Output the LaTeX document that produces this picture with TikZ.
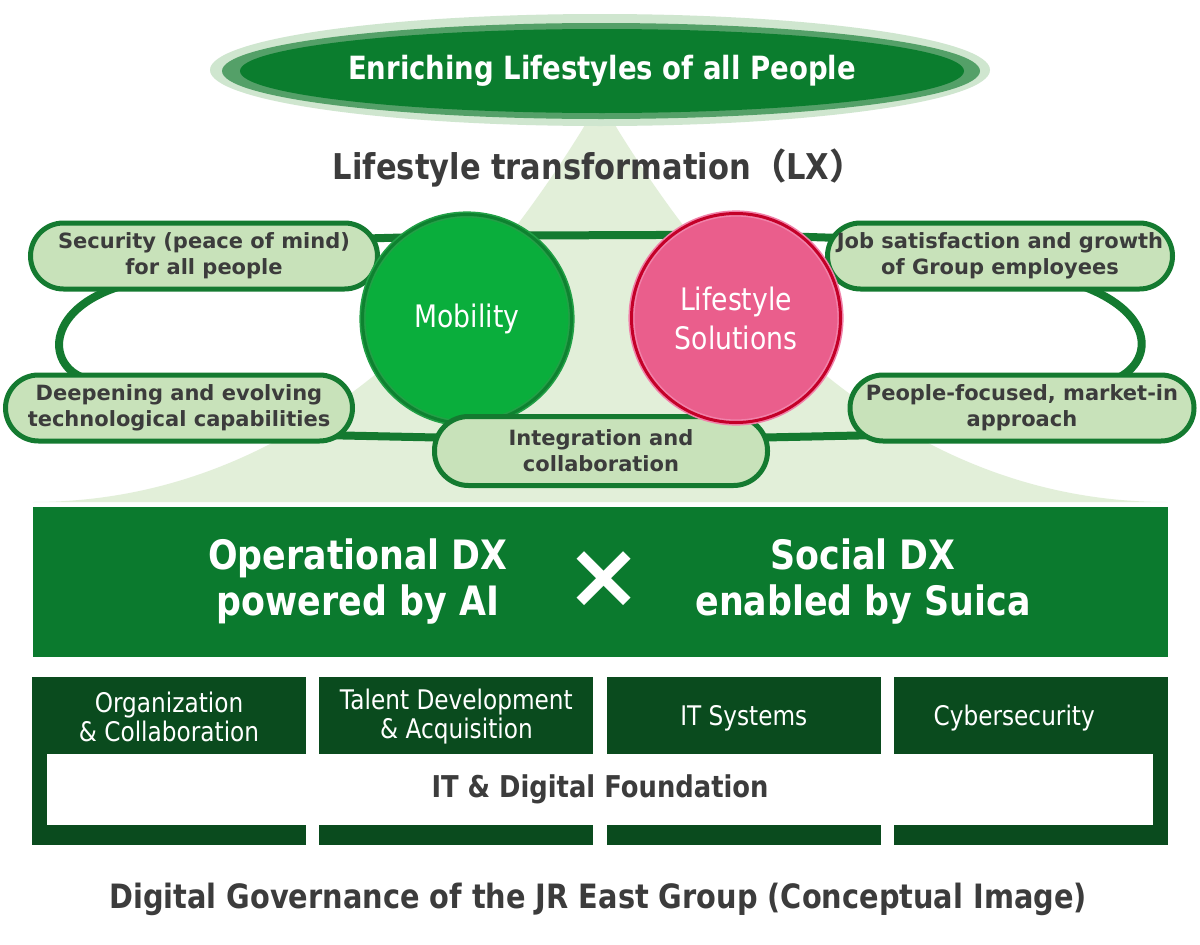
\documentclass[tikz,border=0pt]{standalone}
\usepackage{fontspec}
\setmainfont{DejaVu Sans}
\newfontfamily\meiryo{DejaVu Sans}[FakeStretch=0.86]
\newfontfamily\cjkfont{Noto Sans CJK JP}
\usetikzlibrary{positioning,shapes.geometric,backgrounds}
\definecolor{goalgreen}{RGB}{11,125,46}
\definecolor{goalring}{RGB}{84,160,104}
\definecolor{goalhalo}{RGB}{207,230,207}
\definecolor{conefill}{RGB}{226,239,217}
\definecolor{loopgreen}{RGB}{20,122,48}
\definecolor{pillfill}{RGB}{200,226,186}
\definecolor{txtgray}{RGB}{60,60,60}
\definecolor{mobfill}{RGB}{10,174,60}
\definecolor{mobring}{RGB}{34,160,70}
\definecolor{mobline}{RGB}{14,130,48}
\definecolor{lsfill}{RGB}{234,94,140}
\definecolor{lsring}{RGB}{240,130,170}
\definecolor{lsline}{RGB}{196,0,40}
\definecolor{dxgreen}{RGB}{11,122,46}
\definecolor{coldark}{RGB}{10,75,30}

\begin{document}
\begin{tikzpicture}[x=1pt,y=-1pt,
  pill/.style={draw=loopgreen,line width=5pt,fill=pillfill,rounded corners=33pt,minimum width=347pt,minimum height=66pt,inner sep=0pt,align=center,text=txtgray,font=\bfseries\fontsize{21}{26}\selectfont},
  hub/.style={circle,minimum size=209pt,inner sep=0pt,align=center,text=white,line width=1.6pt,double distance=3pt,font=\meiryo\fontsize{31}{39}\selectfont},
  dxtext/.style={text=white,align=center,font=\meiryo\bfseries\fontsize{40.5}{46}\selectfont},
  pillar/.style={fill=coldark,minimum width=274pt,minimum height=168pt,inner sep=0pt},
  pillarlabel/.style={text=white,align=center,font=\meiryo\fontsize{27}{29}\selectfont},
  loopline/.style={draw=loopgreen,line width=8pt},
]
\useasboundingbox (0,0) rectangle (1200,945);

% goal on top
\fill[goalhalo] (600,70) ellipse [x radius=390,y radius=56];
\fill[goalring] (601,71) ellipse [x radius=379,y radius=48];
\node[ellipse,fill=goalgreen,minimum width=724pt,minimum height=84pt,inner sep=0pt,text=white,font=\meiryo\bfseries\fontsize{32}{38}\selectfont] (goal) at (602,71) {Enriching Lifestyles of all People};
\node[text=txtgray,font=\meiryo\bfseries\fontsize{35.5}{40}\selectfont] (lx) at (599,168) {Lifestyle transformation{\cjkfont （}LX{\cjkfont ）}};

% values and the two businesses
\node[pill] (sec) at (204,256) {Security (peace of mind)\\for all people};
\node[pill] (deep) at (179,408) {Deepening and evolving\\technological capabilities};
\node[pill,minimum width=345pt] (job) at (1000,256) {Job satisfaction and growth\\of Group employees};
\node[pill,minimum width=344pt] (peop) at (1022,408) {People-focused, market-in\\approach};
\node[hub,fill=mobfill,draw=mobring,double=mobline] (mob) at (467,319) {Mobility};
\node[pill,minimum width=333pt,minimum height=69pt,rounded corners=34pt] (integ) at (601,451) {Integration and\\collaboration};
\node[hub,fill=lsfill,draw=lsring,double=lsline] (life) at (736,318) {Lifestyle\\Solutions};

% DX band
\node[fill=dxgreen,minimum width=1135pt,minimum height=150pt,inner sep=0pt] (dx) at (600.5,582) {};
\node[dxtext] (opdx) at (358,581) {Operational DX\\powered by AI};
\node[dxtext,font=\bfseries\fontsize{92}{92}\selectfont] (times) at (604,580) {×};
\node[dxtext] (socdx) at (863,581) {Social DX\\enabled by Suica};

% foundation pillars
\node[pillar] (col1) at (169,761) {};
\node[pillar,right=13pt of col1] (col2) {};
\node[pillar,right=13pt of col2] (col3) {};
\node[pillar,right=13pt of col3] (col4) {};
\node[pillarlabel] (org) at ([yshift=44pt]col1.center) {Organization\\\& Collaboration};
\node[pillarlabel] (tal) at ([yshift=44pt]col2.center) {Talent Development\\\& Acquisition};
\node[pillarlabel] (its) at ([yshift=43pt]col3.center) {IT Systems};
\node[pillarlabel] (cyb) at ([xshift=-17pt,yshift=43pt]col4.center) {Cybersecurity};
\node[fill=white,minimum width=1106pt,minimum height=71pt,inner sep=0pt,text=txtgray,font=\meiryo\bfseries\fontsize{30}{36}\selectfont] (found) at (600,789) {IT \& Digital Foundation};

\node[text=txtgray,font=\meiryo\bfseries\fontsize{33.5}{40}\selectfont] (caption) at (598,899) {Digital Governance of the JR East Group (Conceptual Image)};

\begin{scope}[on background layer]
\fill[white] (0,0) rectangle (1200,945);
% light cone below the goal
\fill[conefill] (600,99) -- (582,130) .. controls (421,390) and (233,502) .. (33,502) -- (1167,502) .. controls (967,502) and (779,390) .. (618,130) -- cycle;
% loop joining the values
\draw[loopline] ([xshift=-74pt,yshift=8pt]sec.south) .. controls (45,305) and (45,365) .. ([xshift=-94pt,yshift=-6pt]deep.north)
  -- ([yshift=-24pt]deep.center) -- ([yshift=10pt]integ.center) -- ([yshift=-24pt]peop.center)
  -- ([xshift=95pt,yshift=-6pt]peop.north) .. controls (1155,360) and (1155,310) .. ([xshift=75pt,yshift=8pt]job.south)
  -- ([yshift=13pt]job.center) -- ([yshift=-22pt]life.north) -- ([yshift=-22pt]mob.north) -- ([yshift=13pt]sec.center) -- cycle;
\end{scope}
\end{tikzpicture}
\end{document}
